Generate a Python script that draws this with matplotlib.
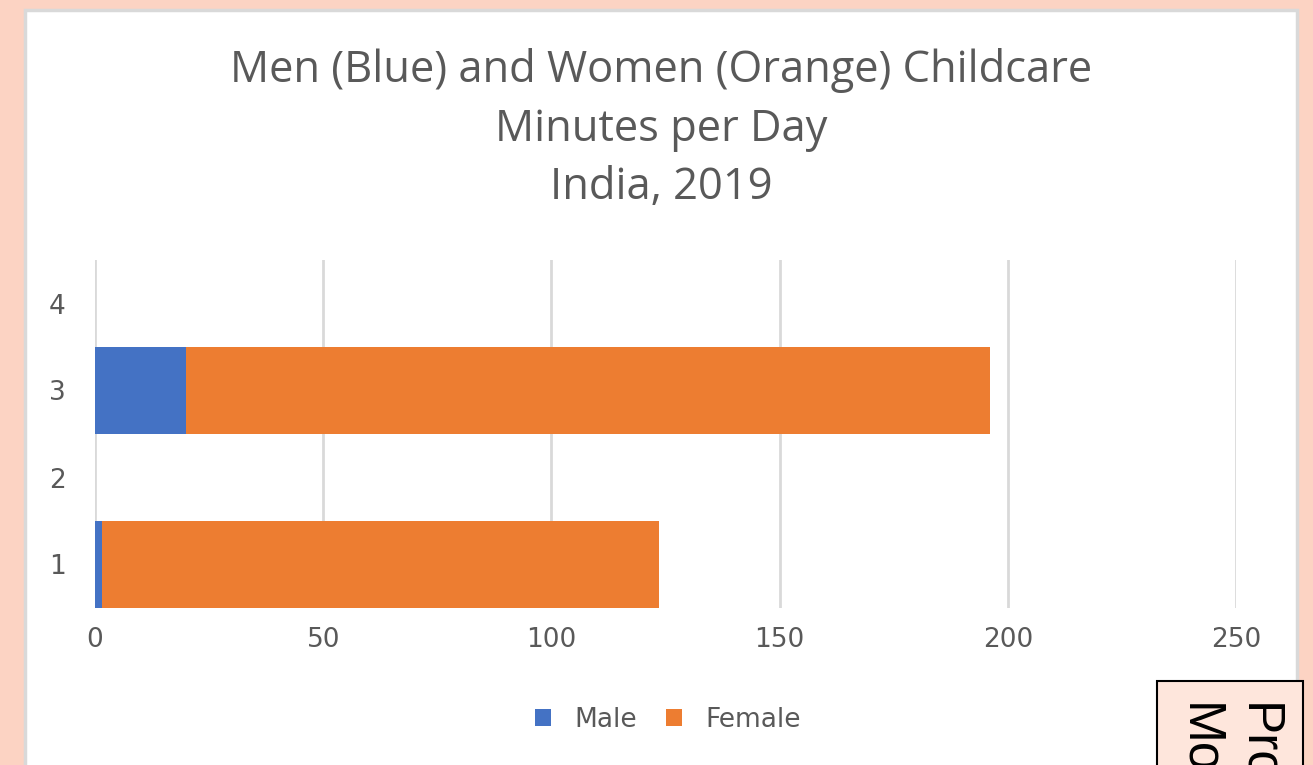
import matplotlib.pyplot as plt
from matplotlib.patches import Rectangle

# data
categories = [1, 2, 3, 4]
male = [1.5, 0, 20, 0]
female = [122, 0, 176, 0]
xticks = [0, 50, 100, 150, 200, 250]

blue = '#4472C4'
orange = '#ED7D31'
grey_txt = '#595959'
grid_col = '#D9D9D9'

fig = plt.figure(figsize=(13.13, 7.65), dpi=100)
fig.patch.set_facecolor('#FCD3C3')

# white chart area with a thin grey border
fig.add_artist(Rectangle((25/1313, -0.05), (1297-25)/1313, (765-10)/765 + 0.05,
                         transform=fig.transFigure, facecolor='white',
                         edgecolor=grid_col, lw=2.5, zorder=0))

ax = fig.add_axes([95/1313, 1-608/765, (1236-95)/1313, (608-260)/765])
ax.set_facecolor('none')

ax.barh(categories, male, height=0.99, color=blue, label='Male', zorder=3)
ax.barh(categories, female, left=male, height=0.99, color=orange, label='Female', zorder=3)

ax.set_xlim(0, 250)
ax.set_ylim(0.5, 4.5)
ax.set_xticks(xticks)
ax.set_yticks(categories)
ax.grid(axis='x', color=grid_col, lw=2, zorder=0)
for s in ax.spines.values():
    s.set_visible(False)
ax.tick_params(length=0, labelsize=19, labelcolor=grey_txt, pad=14)
ax.tick_params(axis='y', pad=21)

fig.text(661/1313, 1-129/765,
         'Men (Blue) and Women (Orange) Childcare\nMinutes per Day\nIndia, 2019',
         ha='center', va='center', fontsize=31.3, color=grey_txt,
         family='Open Sans', linespacing=1.42)

ax.legend(loc='center', bbox_to_anchor=(668/1313, 1-720/765),
          bbox_transform=fig.transFigure, ncol=2, frameon=False,
          fontsize=19, labelcolor=grey_txt, handlelength=0.6, handleheight=0.6,
          columnspacing=1.1, handletextpad=0.9)

# clipped side box at the lower right
fig.add_artist(Rectangle((1157/1313, -0.05), (1303-1157)/1313, (765-681)/765 + 0.05,
                         transform=fig.transFigure, facecolor='#FEE6DC',
                         edgecolor='black', lw=1.5, zorder=5))
fig.text(1228/1313, 1-703/765, 'Proportion\nMothers', rotation=-90,
         ha='center', va='top', multialignment='left', fontsize=37,
         family='Liberation Sans', color='black', linespacing=1.25, zorder=6)

fig.savefig('out.png', dpi=100)
